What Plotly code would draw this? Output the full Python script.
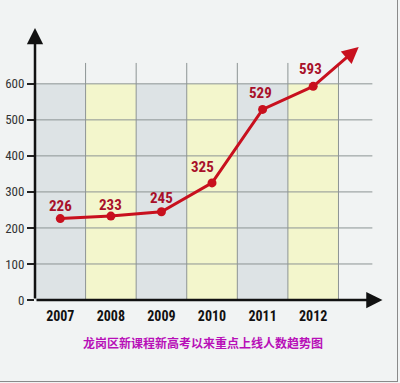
import plotly.graph_objects as go

years = ["2007", "2008", "2009", "2010", "2011", "2012"]
values = [226, 233, 245, 325, 529, 593]
y_ticks = [0, 100, 200, 300, 400, 500, 600]
title_text = "龙岗区新课程新高考以来重点上线人数趋势图"

xs = list(range(len(years)))
RED = "#c8101e"
LABEL = "#a8102a"
NARROW = "Liberation Sans Narrow, Arial Narrow, Roboto Condensed, sans-serif"

# plot-area geometry in pixels (used only for paper-coordinate conversions)
L, T, W, H = 35, 28, 349, 272


def px_x(p):
    return (p - L) / W


def px_y(p):
    return (T + H - p) / H


fig = go.Figure()

shapes = []
for i in xs:
    shapes.append(dict(type="rect", xref="x", yref="y", x0=i - 0.5, x1=i + 0.5, y0=0, y1=600,
                       fillcolor="#dde3e5" if i % 2 == 0 else "#f3f6cc", line_width=0, layer="below"))
for v in y_ticks[1:]:
    shapes.append(dict(type="line", xref="x", yref="y", x0=-0.5, x1=6.17, y0=v, y1=v,
                       line=dict(color="#8c9494", width=1), layer="below"))
for i in xs:
    shapes.append(dict(type="line", xref="x", yref="y", x0=i + 0.5, x1=i + 0.5, y0=0, y1=658,
                       line=dict(color="#8c9494", width=1), layer="below"))
# outer frame (bottom and right)
shapes.append(dict(type="line", xref="paper", yref="paper", x0=px_x(0), x1=px_x(398),
                   y0=px_y(381.5), y1=px_y(381.5), line=dict(color="#8a8a8a", width=1)))
shapes.append(dict(type="line", xref="paper", yref="paper", x0=px_x(397.5), x1=px_x(397.5),
                   y0=px_y(0), y1=px_y(382), line=dict(color="#8a8a8a", width=1)))

fig.add_trace(go.Scatter(x=xs, y=values, mode="lines+markers",
                         line=dict(color=RED, width=3),
                         marker=dict(color=RED, size=9), hoverinfo="skip", cliponaxis=False))

annotations = []
offs = {0: (0, 13), 1: (0, 11), 2: (0, 14), 3: (-10, 16), 4: (-2, 16), 5: (-3, 17)}
for i, v in zip(xs, values):
    dx, dy = offs[i]
    annotations.append(dict(x=i, y=v, xref="x", yref="y", text=f"<b>{v}</b>", showarrow=False,
                            xshift=dx, yshift=dy, yanchor="middle",
                            font=dict(family=NARROW, size=15, color=LABEL)))
annotations.append(dict(x=5.9, y=702, ax=xs[-1], ay=values[-1], xref="x", yref="y",
                        axref="x", ayref="y", text="", showarrow=True, arrowhead=2,
                        arrowsize=1.1, arrowwidth=3, arrowcolor=RED))
annotations.append(dict(x=6.37, y=0, ax=-0.5, ay=0, xref="x", yref="y", axref="x", ayref="y",
                        text="", showarrow=True, arrowhead=2, arrowsize=1.3, arrowwidth=2.5,
                        arrowcolor="#111"))
annotations.append(dict(x=-0.5, y=755, ax=-0.5, ay=0, xref="x", yref="y", axref="x", ayref="y",
                        text="", showarrow=True, arrowhead=2, arrowsize=1.3, arrowwidth=2.5,
                        arrowcolor="#111"))
annotations.append(dict(x=px_x(203), y=px_y(353), xref="paper", yref="paper",
                        text=f"<b>{title_text}</b>", showarrow=False,
                        font=dict(family="Noto Sans CJK SC", size=12, color="#b80fb8")))

fig.update_layout(
    width=400, height=383,
    margin=dict(l=L, r=400 - L - W, t=T, b=383 - T - H),
    paper_bgcolor="#f1f3f3", plot_bgcolor="rgba(0,0,0,0)",
    showlegend=False,
    shapes=shapes, annotations=annotations,
    xaxis=dict(range=[-0.5, 6.4], tickvals=xs, ticktext=[f"<b>{y}</b>" for y in years],
               showgrid=False, zeroline=False, showline=False, ticks="",
               ticklabelstandoff=6, automargin=False,
               tickfont=dict(family=NARROW, size=14, color="#111")),
    yaxis=dict(range=[0, 755], tickvals=y_ticks, showgrid=False, zeroline=False,
               showline=False, ticks="outside", ticklen=7, tickwidth=1.5, tickcolor="#222",
               automargin=False,
               tickfont=dict(family=NARROW, size=13, color="#333")),
)

fig.write_html("out.html", config={"displayModeBar": False},
               post_script="document.body.style.margin='0';")
